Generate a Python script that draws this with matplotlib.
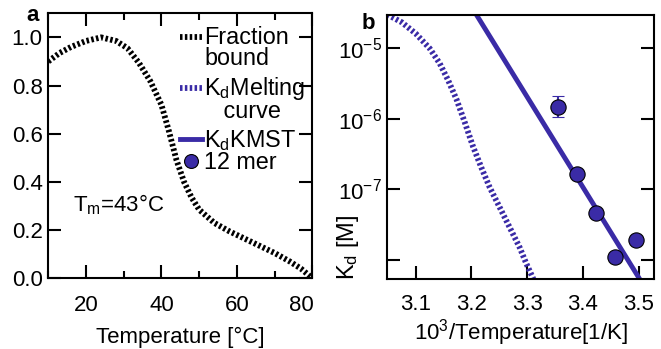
import numpy as np
import matplotlib
matplotlib.use("Agg")
import matplotlib.pyplot as plt
from matplotlib.ticker import FixedLocator, FixedFormatter
from matplotlib.transforms import ScaledTranslation

plt.rcParams["font.family"] = ["Liberation Sans", "DejaVu Sans"]
plt.rcParams["mathtext.fontset"] = "custom"
plt.rcParams["mathtext.rm"] = "Liberation Sans"
plt.rcParams["mathtext.it"] = "Liberation Sans:italic"
plt.rcParams["lines.scale_dashes"] = False

# panel a: fraction bound vs temperature
temp_c = [10, 13, 16, 20, 24, 28, 31, 34, 37, 40, 42, 44, 46, 48, 50, 54, 58, 62, 66, 70, 74, 77, 80]
frac_bound = [0.90, 0.935, 0.96, 0.985, 1.0, 0.985, 0.955, 0.895, 0.82, 0.72, 0.61, 0.49, 0.40,
              0.335, 0.285, 0.23, 0.195, 0.165, 0.135, 0.105, 0.07, 0.04, 0.0]

# panel b: Kd vs 1000/T
melt_x = [3.049, 3.075, 3.10, 3.125, 3.143, 3.158, 3.173, 3.188, 3.2027,
          3.2177, 3.2326, 3.2475, 3.2625, 3.2744, 3.2864, 3.2983, 3.311]
melt_log = [-4.52, -4.63, -4.79, -5.00, -5.213, -5.45, -5.72, -6.05, -6.39,
            -6.69, -6.969, -7.205, -7.443, -7.632, -7.822, -8.05, -8.27]
melt_kd = [10 ** v for v in melt_log]
kmst_x = [3.20, 3.51]
kmst_kd = [3.9e-5, 4.2e-9]
mer12_x = [3.355, 3.389, 3.4238, 3.4584, 3.4955]
mer12_kd = [1.5e-6, 1.63e-7, 4.7e-8, 1.1e-8, 1.9e-8]
mer12_err_lo = [0.45e-6, 0, 0, 0, 0]
mer12_err_hi = [0.6e-6, 0, 0, 0, 0]

blue = "#3a2ba6"
fs = 16
fs_leg = 16.8

fig = plt.figure(figsize=(6.61, 3.49), dpi=100)
ax1 = fig.add_axes([0.073, 0.2026, 0.3995, 0.7594])
ax2 = fig.add_axes([0.586, 0.2006, 0.403, 0.7564])

# ---- panel a ----
ax1.plot(temp_c, frac_bound, color="black", lw=4.2, dashes=(1.8, 1.7), label="Fraction\nbound")
ax1.plot([], [], color=blue, lw=4.2, dashes=(1.8, 1.7), label="K$_\\mathrm{d}$Melting\n   curve")
ax1.plot([], [], color=blue, lw=3.5, label="K$_\\mathrm{d}$KMST")
ax1.plot([], [], "o", color=blue, mec="black", mew=0.8, ms=10, label="12 mer")
ax1.set_xlim(10, 80)
ax1.set_ylim(0, 1.1)
ax1.xaxis.set_major_locator(FixedLocator([20, 40, 60, 80]))
ax1.xaxis.set_minor_locator(FixedLocator([10, 30, 50, 70]))
ax1.yaxis.set_major_locator(FixedLocator([0.0, 0.2, 0.4, 0.6, 0.8, 1.0]))
ax1.yaxis.set_major_formatter(FixedFormatter(["0.0", "0.2", "0.4", "0.6", "0.8", "1.0"]))
ax1.tick_params(which="major", direction="in", length=9.5, width=1.5, top=True, right=True, labelsize=fs)
ax1.tick_params(which="minor", direction="in", length=5, width=1.5, top=True, right=False)
ax1.tick_params(axis="x", pad=12)
ax1.tick_params(axis="y", pad=4)
ax1.set_xlabel("Temperature [°C]", fontsize=fs, labelpad=8)
ax1.text(16.5, 0.305, "T$_\\mathrm{m}$=43°C", fontsize=fs, va="center", ha="left")
leg = ax1.legend(loc="upper right", bbox_to_anchor=(0.975, 0.952), frameon=False, fontsize=fs_leg,
                 handlelength=0.95, handletextpad=0.1, labelspacing=0.2, borderaxespad=0, borderpad=0)
for t in leg.get_texts():
    t.set_linespacing(0.9)
# put the handle of two-line entries next to the first line
for h, t in zip(leg.legend_handles, leg.get_texts()):
    if "\n" in t.get_text():
        h.set_ydata(np.asarray(h.get_ydata()) + 8.5)
# last entry sits tighter under "KdKMST" in the original
last_h, last_t = leg.legend_handles[-1], leg.get_texts()[-1]
last_h.set_ydata(np.asarray(last_h.get_ydata()) + 4.5)
last_t.set_transform(last_t.get_transform() + ScaledTranslation(0, 4.5 / 72, fig.dpi_scale_trans))

# ---- panel b ----
ax2.plot(melt_x, melt_kd, color=blue, lw=4.2, dashes=(1.8, 1.7))
ax2.plot(kmst_x, kmst_kd, color=blue, lw=3.5)
ax2.errorbar(mer12_x, mer12_kd, yerr=[mer12_err_lo, mer12_err_hi], fmt="o", color=blue, mec="black",
             mew=0.8, ms=11, ecolor=blue, elinewidth=1.5, capsize=4, capthick=1.5, zorder=5)
ax2.set_yscale("log")
ax2.set_xlim(3.049, 3.527)
ax2.set_ylim(10 ** -8.27, 10 ** -4.526)
ax2.xaxis.set_major_locator(FixedLocator([3.1, 3.2, 3.3, 3.4, 3.5]))
ax2.xaxis.set_major_formatter(FixedFormatter(["3.1", "3.2", "3.3", "3.4", "3.5"]))
ax2.yaxis.set_major_locator(FixedLocator([1e-8, 1e-7, 1e-6, 1e-5]))
ax2.yaxis.set_major_formatter(FixedFormatter(["", "10$^{\\mathrm{-7}}$", "10$^{\\mathrm{-6}}$", "10$^{\\mathrm{-5}}$"]))
ax2.yaxis.set_minor_locator(FixedLocator([]))
ax2.tick_params(which="major", direction="in", length=9.5, width=1.5, right=True, labelsize=fs)
ax2.tick_params(axis="x", pad=11)
ax2.tick_params(axis="y", pad=4)
ax2.set_xlabel("10$^\\mathrm{3}$/Temperature[1/K]", fontsize=fs, labelpad=1)
ax2.set_ylabel("K$_\\mathrm{d}$ [M]", fontsize=17)
ax2.yaxis.set_label_coords(-0.1, 0.12)

for ax in (ax1, ax2):
    for sp in ax.spines.values():
        sp.set_linewidth(1.5)

# the "80" label sits a bit left of its tick in the original
lab80 = ax1.get_xticklabels()[-1]
lab80.set_transform(lab80.get_transform() + ScaledTranslation(-8 / 72, 0, fig.dpi_scale_trans))

fig.text(0.05, 0.955, "a", fontsize=fs, fontweight="bold", ha="center", va="center")
fig.text(0.557, 0.934, "b", fontsize=fs, fontweight="bold", ha="center", va="center")

fig.savefig("out.png", dpi=100)
